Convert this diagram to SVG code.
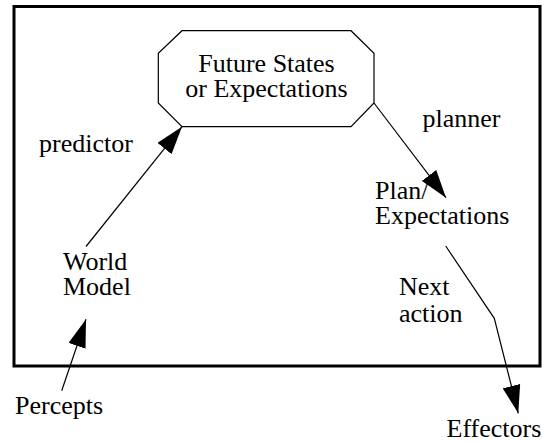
<svg xmlns="http://www.w3.org/2000/svg" width="542" height="442" viewBox="0 0 542 442">
  <style>
    .t { font-family: "Liberation Serif", "Times New Roman", serif; font-size: 26px; fill: #000; }
    .c { text-anchor: middle; }
    .conn { fill: none; stroke: #000; stroke-width: 1.2; marker-end: url(#arrow); }
  </style>
  <defs>
    <marker id="arrow" viewBox="0 0 28 18" refX="28" refY="9" markerWidth="28" markerHeight="18" markerUnits="userSpaceOnUse" orient="auto">
      <path d="M0,0 L28,9 L0,18 z" fill="#000"/>
    </marker>
  </defs>
  <rect x="0" y="0" width="542" height="442" fill="#fff"/>
  <rect id="frame" x="14" y="6.5" width="526" height="359.5" fill="none" stroke="#000" stroke-width="3"/>

  <g id="connectors">
    <line class="conn" x1="61.7" y1="390.7" x2="86" y2="319.3"/>
    <line class="conn" x1="86" y1="246.5" x2="182" y2="126.7"/>
    <line class="conn" x1="374" y1="103" x2="446" y2="197.7"/>
    <polyline class="conn" points="445.7,246 494.3,318.3 518.3,413.3"/>
  </g>

  <g id="future-states">
    <polygon points="182,30.7 351,30.7 374,53.3 374,103 351,126.7 182,126.7 158.3,103 158.3,53.3" fill="#fff" stroke="#000" stroke-width="1.2"/>
    <text class="t c" x="266.5" y="72">Future States</text>
    <text class="t c" x="266.5" y="97">or Expectations</text>
  </g>

  <g id="world-model">
    <text class="t" x="63" y="269.5">World</text>
    <text class="t" x="63" y="295">Model</text>
  </g>

  <g id="plan-expectations">
    <text class="t" x="375" y="198.5">Plan/</text>
    <text class="t" x="375" y="223.5">Expectations</text>
  </g>

  <g id="percepts">
    <text class="t" x="15" y="413.5">Percepts</text>
  </g>

  <g id="effectors">
    <text class="t" x="446.5" y="436.5">Effectors</text>
  </g>

  <g id="labels">
    <text class="t" x="39" y="151.5">predictor</text>
    <text class="t" x="422.5" y="126.5">planner</text>
    <text class="t" x="399" y="295">Next</text>
    <text class="t" x="399" y="321.5">action</text>
  </g>
</svg>
